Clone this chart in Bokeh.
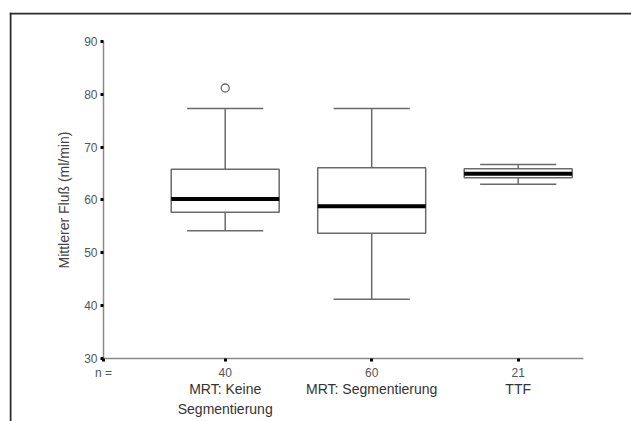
from bokeh.plotting import figure
from bokeh.models import Range1d, LinearAxis, FixedTicker, Span, ColumnDataSource
from bokeh.embed import file_html
from bokeh.resources import INLINE

# ---- data ----
categories = ["MRT: Keine\nSegmentierung", "MRT: Segmentierung", "TTF"]
n_counts = [40, 60, 21]
positions = [1, 2, 3]
whisker_low = [54.2, 41.2, 63.0]
q1 = [57.7, 53.7, 64.2]
medians = [60.2, 58.8, 64.95]
q3 = [65.8, 66.1, 65.9]
whisker_high = [77.3, 77.3, 66.7]
outlier_pos = [1]
outlier_val = [81.2]
y_ticks = [30, 40, 50, 60, 70, 80, 90]
y_label = "Mittlerer Fluß (ml/min)"

FONT = "Liberation Sans"
BOX_W = 0.737
CAP_W = 0.52
X0 = 0.1693   # where y axis sits
X1 = 3.446    # end of x axis
XS, XE = -0.4724, 3.7734
YS, YE = 18.07, 95.49

p = figure(width=631, height=421, output_backend="svg", toolbar_location=None,
           x_range=Range1d(XS, XE), y_range=Range1d(YS, YE),
           x_axis_location=None, y_axis_location=None,
           min_border_left=9, min_border_top=12, min_border_right=0, min_border_bottom=0)
p.outline_line_color = None
p.xgrid.visible = False
p.ygrid.visible = False
p.background_fill_color = "white"
p.border_fill_color = "white"

# outer frame (top & left)
p.add_layout(Span(location=XS + 0.0068, dimension="height", line_color="#2a2a2a", line_width=2))
p.add_layout(Span(location=YE - 0.19, dimension="width", line_color="#2a2a2a", line_width=2))

src = ColumnDataSource(dict(x=positions, lo=whisker_low, q1=q1, med=medians, q3=q3, hi=whisker_high,
                            capl=[x - CAP_W / 2 for x in positions],
                            capr=[x + CAP_W / 2 for x in positions],
                            bl=[x - BOX_W / 2 for x in positions],
                            br=[x + BOX_W / 2 for x in positions]))

LC = "#6a6a6a"
# whiskers
p.segment("x", "q3", "x", "hi", source=src, line_color=LC, line_width=1.5)
p.segment("x", "lo", "x", "q1", source=src, line_color=LC, line_width=1.5)
p.segment("capl", "hi", "capr", "hi", source=src, line_color=LC, line_width=1.5)
p.segment("capl", "lo", "capr", "lo", source=src, line_color=LC, line_width=1.5)
# boxes
p.quad(left="bl", right="br", bottom="q1", top="q3", source=src,
       fill_color="white", line_color=LC, line_width=1.5)
# medians
p.segment("bl", "med", "br", "med", source=src, line_color="black", line_width=4)
# outliers
p.scatter(outlier_pos, outlier_val, marker="circle", size=8, fill_color="white",
          line_color=LC, line_width=1.3)

# y axis
yax = LinearAxis(fixed_location=X0, bounds=(30, 90), ticker=FixedTicker(ticks=y_ticks))
yax.axis_line_color = "#8a8a8a"
yax.axis_line_width = 1.5
yax.major_tick_line_color = "black"
yax.major_tick_line_width = 3
yax.major_tick_out = 3
yax.major_tick_in = 0
yax.minor_tick_line_color = None
yax.major_label_text_font = FONT
yax.major_label_text_font_size = "12px"
yax.major_label_text_color = "#555555"
yax.major_label_standoff = 3
yax.axis_label = y_label
yax.axis_label_text_font = FONT
yax.axis_label_text_font_size = "14px"
yax.axis_label_text_font_style = "normal"
yax.axis_label_text_color = "#444444"
yax.axis_label_standoff = 9
p.add_layout(yax, "left")

# x axis with n counts
n_overrides = {X0: "n ="}
for pos, n in zip(positions, n_counts):
    n_overrides[pos] = str(n)
xax = LinearAxis(fixed_location=30, bounds=(X0, X1), ticker=FixedTicker(ticks=[X0] + positions))
xax.major_label_overrides = n_overrides
xax.axis_line_color = "#8a8a8a"
xax.axis_line_width = 1.5
xax.major_tick_line_color = "black"
xax.major_tick_line_width = 3
xax.major_tick_out = 3
xax.major_tick_in = 0
xax.minor_tick_line_color = None
xax.major_label_text_font = FONT
xax.major_label_text_font_size = "12px"
xax.major_label_text_color = "#555555"
xax.major_label_standoff = 5
p.add_layout(xax, "below")

# x axis with category names
cax = LinearAxis(fixed_location=30, ticker=FixedTicker(ticks=positions))
cax.major_label_overrides = {pos: c for pos, c in zip(positions, categories)}
cax.axis_line_color = None
cax.major_tick_line_color = None
cax.major_tick_out = 0
cax.major_tick_in = 0
cax.minor_tick_line_color = None
cax.major_label_text_font = FONT
cax.major_label_text_font_size = "14px"
cax.major_label_text_color = "#333333"
cax.major_label_standoff = 23
p.add_layout(cax, "below")

open("out.html", "w").write(file_html(p, INLINE))
